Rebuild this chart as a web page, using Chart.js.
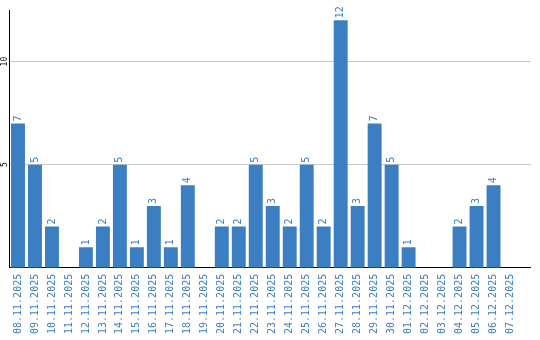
<!DOCTYPE html>
<html>
<head>
<meta charset="utf-8">
<script src="https://cdn.jsdelivr.net/npm/chart.js@4.4.1/dist/chart.umd.min.js"></script>
<style>
    html, body { margin: 0; padding: 0; background: #ffffff; }
    #wrap { width: 540px; height: 340px; }
</style>
</head>
<body>
<div id="wrap"><canvas id="chart" width="540" height="340"></canvas></div>
<script>
const dates = [
    '08.11.2025', '09.11.2025', '10.11.2025', '11.11.2025', '12.11.2025', '13.11.2025',
    '14.11.2025', '15.11.2025', '16.11.2025', '17.11.2025', '18.11.2025', '19.11.2025',
    '20.11.2025', '21.11.2025', '22.11.2025', '23.11.2025', '24.11.2025', '25.11.2025',
    '26.11.2025', '27.11.2025', '28.11.2025', '29.11.2025', '30.11.2025', '01.12.2025',
    '02.12.2025', '03.12.2025', '04.12.2025', '05.12.2025', '06.12.2025', '07.12.2025'
];
const counts = [7, 5, 2, 0, 1, 2, 5, 1, 3, 1, 4, 0, 2, 2, 5, 3, 2, 5, 2, 12, 3, 7, 5, 1, 0, 0, 2, 3, 4, 0];
const yTicks = [5, 10];

const BLUE = '#3b7ec2';
const GRID = '#c8c8c8';
const MONO = "'DejaVu Sans Mono', 'Liberation Mono', monospace";
const AXIS_END = 531;

const crisp = p => Math.round(p - 0.5) + 0.5;

// value labels above bars, rotated
const valueLabels = {
    id: 'valueLabels',
    afterDatasetsDraw(chart) {
        const ctx = chart.ctx;
        const meta = chart.getDatasetMeta(0);
        ctx.save();
        ctx.fillStyle = BLUE;
        ctx.font = '10px ' + MONO;
        ctx.textAlign = 'left';
        ctx.textBaseline = 'middle';
        meta.data.forEach((bar, i) => {
            const v = counts[i];
            if (!v) return;
            ctx.save();
            ctx.translate(bar.x, bar.y - 2);
            ctx.rotate(-Math.PI / 2);
            ctx.fillText(String(v), 0, 0);
            ctx.restore();
        });
        ctx.restore();
    }
};

// rotated y tick labels, and grid / x axis running a bit past the last category
const axisExtras = {
    id: 'axisExtras',
    afterDraw(chart) {
        const ctx = chart.ctx;
        const y = chart.scales.y;
        const area = chart.chartArea;
        ctx.save();
        ctx.lineWidth = 1;

        ctx.strokeStyle = GRID;
        yTicks.forEach(t => {
            const py = crisp(y.getPixelForValue(t));
            ctx.beginPath();
            ctx.moveTo(area.right, py);
            ctx.lineTo(AXIS_END, py);
            ctx.stroke();
        });

        ctx.strokeStyle = '#000000';
        const by = crisp(y.getPixelForValue(0));
        ctx.beginPath();
        ctx.moveTo(area.right - 1, by);
        ctx.lineTo(AXIS_END, by);
        ctx.stroke();

        ctx.fillStyle = '#000000';
        ctx.font = '8px ' + MONO;
        ctx.textAlign = 'center';
        ctx.textBaseline = 'middle';
        yTicks.forEach(t => {
            ctx.save();
            ctx.translate(5, y.getPixelForValue(t));
            ctx.rotate(-Math.PI / 2);
            ctx.fillText(String(t), 0, 0);
            ctx.restore();
        });
        ctx.restore();
    }
};

new Chart(document.getElementById('chart'), {
    type: 'bar',
    data: {
        labels: dates,
        datasets: [{
            data: counts,
            backgroundColor: BLUE,
            borderWidth: 0,
            barPercentage: 0.82,
            categoryPercentage: 1
        }]
    },
    options: {
        responsive: false,
        animation: false,
        layout: { padding: { top: 10, right: 21, left: 0, bottom: 0 } },
        plugins: {
            legend: { display: false },
            tooltip: { enabled: false }
        },
        scales: {
            x: {
                grid: { display: false, drawTicks: false },
                border: { color: '#000000', width: 1 },
                ticks: {
                    color: BLUE,
                    font: { family: MONO, size: 10 },
                    minRotation: 90,
                    maxRotation: 90,
                    autoSkip: false,
                    padding: 6
                }
            },
            y: {
                min: 0,
                max: 12.5,
                afterFit: s => { s.width = 9.5; },
                afterBuildTicks: s => { s.ticks = yTicks.map(v => ({ value: v })); },
                grid: { color: GRID, drawTicks: false },
                border: { color: '#000000', width: 1 },
                ticks: { display: false }
            }
        }
    },
    plugins: [valueLabels, axisExtras]
});
</script>
</body>
</html>
